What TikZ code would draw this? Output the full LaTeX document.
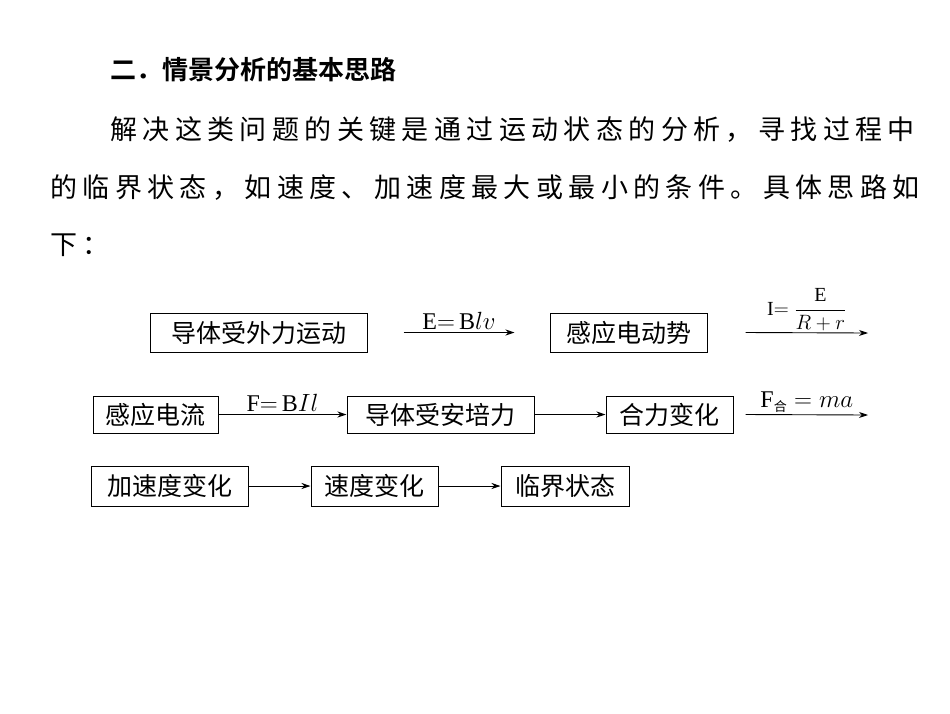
\documentclass[tikz,border=0pt]{standalone}
\usepackage{fontspec}
\setmainfont{Liberation Serif}
\newfontfamily\cjk{Noto Sans CJK SC}
\newfontfamily\cjkb{Noto Sans CJK SC Bold}
\usetikzlibrary{arrows.meta}
\begin{document}
\begin{tikzpicture}[x=1pt,y=-1pt,
  bx/.style={draw,line width=1pt,inner sep=0pt,font=\cjk\fontsize{25}{25}\selectfont},
  ar/.style={-{Stealth[length=9pt,width=6pt]},line width=0.9pt},
  lb/.style={font=\fontsize{24}{24}\selectfont,inner sep=1pt},
  tx/.style={anchor=west,inner sep=0pt,font=\cjk\fontsize{27}{27}\selectfont\addfontfeature{LetterSpace=20}}]
\useasboundingbox (0,0) rectangle (950,713);
\node[anchor=west,inner sep=0pt,font=\cjkb\fontsize{26}{26}\selectfont] (t) at (110,70) {二．情景分析的基本思路};
\node[tx] (p1) at (110,130) {解决这类问题的关键是通过运动状态的分析，寻找过程中};
\node[tx] (p2) at (50,188) {的临界状态，如速度、加速度最大或最小的条件。具体思路如};
\node[tx] (p3) at (50,245) {下：};
% row 1
\node[bx,minimum width=217,minimum height=39] (a1) at (258.5,332.5) {导体受外力运动};
\node[bx,minimum width=157,minimum height=39] (a2) at (628.5,332.5) {感应电动势};
\coordinate (e1) at (868,333);
\draw[ar] ([xshift=-146]a2.west) -- node[lb,above=1pt] (l1) {E$=$\,B$l v$} ([xshift=-35]a2.west);
\draw[ar] ([xshift=38]a2.east) -- node[lb,above=0pt,font=\fontsize{20}{20}\selectfont] (l2) {I$=\displaystyle\frac{\mathrm{E}}{R+r}$} (e1);
% row 2
\node[bx,minimum width=125,minimum height=37] (b1) at (155.5,414.5) {感应电流};
\node[bx,minimum width=187,minimum height=37] (b2) at (440.5,414.5) {导体受安培力};
\node[bx,minimum width=127,minimum height=37] (b3) at (669.5,414.5) {合力变化};
\coordinate (e2) at (868,415);
\draw[ar] (b1) -- node[lb,above=1pt] (l3) {F$=$\,B$Il$} (b2);
\draw[ar] (b2) -- (b3);
\draw[ar] ([xshift=12]b3.east) -- node[lb,above=1pt] (l4) {F$_{\hbox{\cjk\fontsize{13}{13}\selectfont 合}}=ma$} (e2);
% row 3
\node[bx,minimum width=157,minimum height=40] (c1) at (169.5,486) {加速度变化};
\node[bx,minimum width=127,minimum height=40] (c2) at (374.5,486) {速度变化};
\node[bx,minimum width=128,minimum height=40] (c3) at (565,486) {临界状态};
\draw[ar] (c1) -- (c2);
\draw[ar] (c2) -- (c3);
\end{tikzpicture}
\end{document}
